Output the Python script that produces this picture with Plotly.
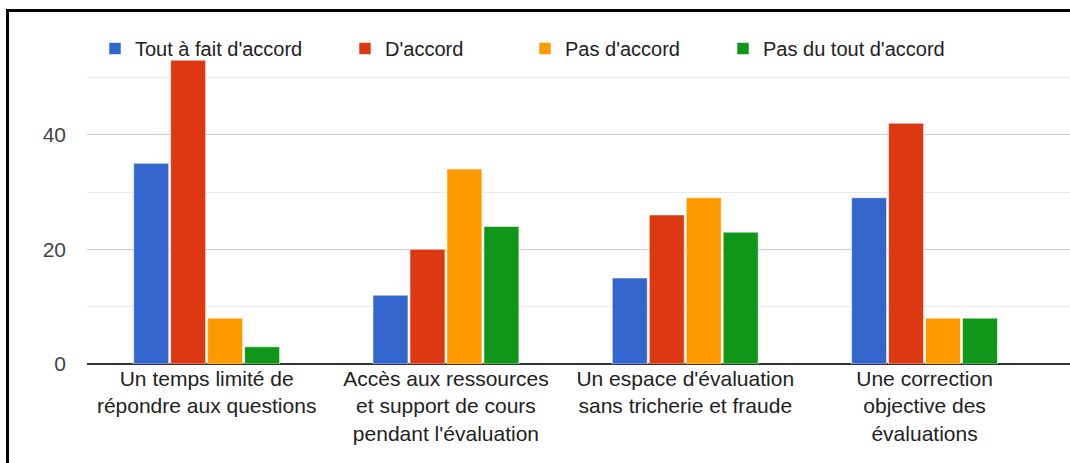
import plotly.graph_objects as go

categories = [
    "Un temps limité de<br>répondre aux questions",
    "Accès aux ressources<br>et support de cours<br>pendant l'évaluation",
    "Un espace d'évaluation<br>sans tricherie et fraude",
    "Une correction<br>objective des<br>évaluations",
]
series_names = ["Tout à fait d'accord", "D'accord", "Pas d'accord", "Pas du tout d'accord"]
tout_a_fait = [35, 12, 15, 29]
d_accord = [53, 20, 26, 42]
pas_d_accord = [8, 34, 29, 8]
pas_du_tout = [3, 24, 23, 8]
colors = ["#3366cc", "#dc3912", "#ff9900", "#109618"]

W, H = 1070, 463
ML, MR, MT, MB = 87, 0, 59, 99
PW, PH = W - ML - MR, H - MT - MB
FONT = "Arial, Liberation Sans, sans-serif"

def px_x(p):
    return (p - ML) / PW

def px_y(p):
    return (H - MB - p) / PH

legend_ids = ["legend", "legend2", "legend3", "legend4"]
legend_px = [95, 345, 525, 723]

fig = go.Figure()
for name, vals, col, lid in zip(series_names, [tout_a_fait, d_accord, pas_d_accord, pas_du_tout], colors, legend_ids):
    fig.add_trace(go.Bar(
        x=categories, y=vals, name=name, legend=lid, showlegend=True,
        marker=dict(color=col, line=dict(color="rgba(255,255,255,0.55)", width=1)),
    ))

legend_style = dict(
    orientation="h", xanchor="left", y=px_y(29), yanchor="top",
    font=dict(family=FONT, size=20, color="#222222"),
    bgcolor="rgba(0,0,0,0)", itemclick=False, itemdoubleclick=False,
)

band = 239.3
fig.update_layout(
    width=W, height=H, showlegend=True,
    margin=dict(l=ML, r=MR, t=MT, b=MB),
    paper_bgcolor="white", plot_bgcolor="white",
    barmode="group", bargap=0.382, bargroupgap=0.054,
    font=dict(family=FONT, size=20, color="#222222"),
    xaxis=dict(
        range=[-0.5, -0.5 + PW / band], showgrid=False, showline=False,
        tickfont=dict(family=FONT, size=21, color="#222222"), ticks="",
        fixedrange=True,
    ),
    yaxis=dict(
        range=[0, 53.2], tickvals=[0, 20, 40], gridcolor="#cccccc", gridwidth=1,
        minor=dict(tickvals=[10, 30, 50], showgrid=True, gridcolor="#ebebeb", gridwidth=1),
        zeroline=True, zerolinecolor="#333333", zerolinewidth=2,
        showline=False, ticks="", ticklabelstandoff=20,
        tickfont=dict(family=FONT, size=21, color="#444444"),
        fixedrange=True,
    ),
    shapes=[
        dict(type="line", xref="paper", yref="paper", x0=px_x(7.5), x1=px_x(7.5),
             y0=px_y(9.5), y1=px_y(470), line=dict(color="black", width=3)),
        dict(type="line", xref="paper", yref="paper", x0=px_x(6), x1=px_x(1075),
             y0=px_y(10.5), y1=px_y(10.5), line=dict(color="black", width=3)),
    ],
)
for lid, lx in zip(legend_ids, legend_px):
    fig.update_layout({lid: dict(legend_style, x=px_x(lx))})

fig.write_html(
    "out.html",
    config={"displayModeBar": False},
    post_script="document.body.style.margin='0';document.body.style.overflow='hidden';",
)
